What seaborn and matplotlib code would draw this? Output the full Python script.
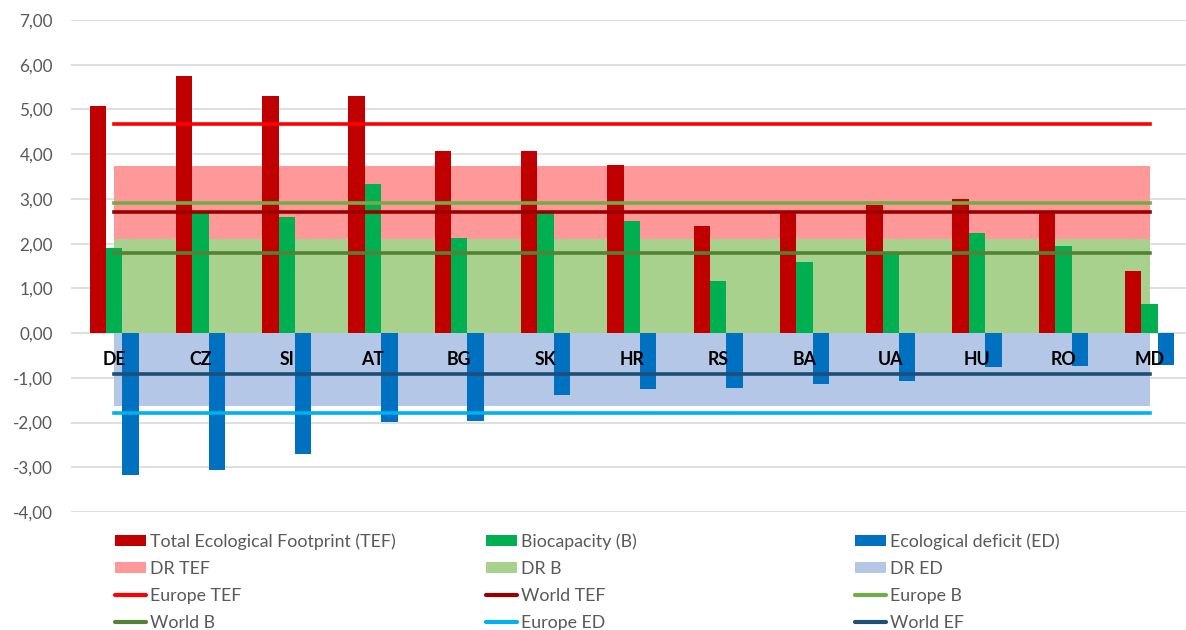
import numpy as np
import pandas as pd
import matplotlib
matplotlib.use("Agg")
import matplotlib.pyplot as plt
from matplotlib.patches import Patch
from matplotlib.lines import Line2D
from matplotlib.ticker import FuncFormatter, MultipleLocator
import seaborn as sns

# ---- data -------------------------------------------------------------
countries = ["DE", "CZ", "SI", "AT", "BG", "SK", "HR", "RS", "BA", "UA", "HU", "RO", "MD"]
tef = [5.08, 5.74, 5.31, 5.31, 4.08, 4.06, 3.75, 2.39, 2.72, 2.86, 2.99, 2.68, 1.38]
biocap = [1.91, 2.68, 2.60, 3.33, 2.12, 2.68, 2.50, 1.16, 1.59, 1.79, 2.23, 1.95, 0.66]
deficit = [-3.17, -3.06, -2.71, -1.98, -1.96, -1.38, -1.25, -1.23, -1.13, -1.07, -0.76, -0.73, -0.72]

# regional (DR) reference ranges
dr_tef = 3.73
dr_b = 2.10
dr_ed = -1.62

# Europe / World averages
europe_tef = 4.68
world_tef = 2.71
europe_b = 2.91
world_b = 1.78
europe_ed = -1.78
world_ef = -0.92

series_names = ["Total Ecological Footprint (TEF)", "Biocapacity (B)", "Ecological deficit (ED)"]

# ---- styling ------------------------------------------------------------
sns.set_theme(style="white")
plt.rcParams["font.family"] = ["Lato", "DejaVu Sans"]

c_tef, c_b, c_ed = "#C00000", "#00B050", "#0070C0"
c_dr_tef, c_dr_b, c_dr_ed = "#FF9999", "#A9D18E", "#B4C7E7"
c_eu_tef, c_w_tef = "#FF0000", "#990000"
c_eu_b, c_w_b = "#70AD47", "#548235"
c_eu_ed, c_w_ef = "#00B0F0", "#1F4E79"
text_grey = "#595959"

W, H = 1186, 630
fig = plt.figure(figsize=(W / 100, H / 100), dpi=100)
ax = fig.add_axes([71 / W, 1 - 512 / H, 1 - 71 / W, (512 - 20) / H])

df = pd.DataFrame({
    "country": countries * 3,
    "value": tef + biocap + deficit,
    "series": [series_names[0]] * len(countries)
    + [series_names[1]] * len(countries)
    + [series_names[2]] * len(countries),
})

x = np.arange(len(countries))

# shaded reference ranges
ax.fill_between(x, 0, dr_tef, color=c_dr_tef, lw=0, zorder=1)
ax.fill_between(x, 0, dr_b, color=c_dr_b, lw=0, zorder=1.1)
ax.fill_between(x, dr_ed, 0, color=c_dr_ed, lw=0, zorder=1.1)

# bars
sns.barplot(
    data=df, x="country", y="value", hue="series", order=countries,
    hue_order=series_names, palette=[c_tef, c_b, c_ed], saturation=1,
    width=0.57, gap=0, errorbar=None, linewidth=0, zorder=2,
    legend=False, ax=ax,
)

# average lines
lw = 2.6
for val, col in [(europe_tef, c_eu_tef), (world_tef, c_w_tef), (europe_b, c_eu_b),
                 (world_b, c_w_b), (europe_ed, c_eu_ed), (world_ef, c_w_ef)]:
    ax.hlines(val, x[0], x[-1], colors=col, lw=lw, zorder=3, capstyle="projecting")

# category labels inside the plot, just below zero
for i, name in enumerate(countries):
    ax.text(i, -0.58, name, ha="center", va="center", fontsize=12.8,
            fontweight="bold", color="black", zorder=4)

# axes
ax.set_ylim(-4, 7)
ax.set_xlim(-0.5, (W - 114) / 86.3)
ax.yaxis.set_major_locator(MultipleLocator(1))
ax.yaxis.set_major_formatter(FuncFormatter(lambda v, p: f"{v:.2f}".replace(".", ",")))
ax.tick_params(axis="y", length=0, pad=13, labelsize=12.3, labelcolor=text_grey)
ax.set_xticks([])
ax.set_xlabel("")
ax.set_ylabel("")
ax.yaxis.grid(True, color="#D9D9D9", lw=1.2, zorder=0)
ax.set_axisbelow(True)
for s in ax.spines.values():
    s.set_visible(False)

# legend, three columns
def patch(c):
    return Patch(facecolor=c, edgecolor="none")

def line(c):
    return Line2D([], [], color=c, lw=3)

columns = [
    ([patch(c_tef), patch(c_dr_tef), line(c_eu_tef), line(c_w_b)],
     [series_names[0], "DR TEF", "Europe TEF", "World B"], 115),
    ([patch(c_b), patch(c_dr_b), line(c_w_tef), line(c_eu_ed)],
     [series_names[1], "DR B", "World TEF", "Europe ED"], 486),
    ([patch(c_ed), patch(c_dr_ed), line(c_eu_b), line(c_w_ef)],
     [series_names[2], "DR ED", "Europe B", "World EF"], 855),
]
for handles, labels, xpx in columns:
    leg = fig.legend(handles, labels, loc="upper left",
                     bbox_to_anchor=(xpx / W, 1 - 533 / H), frameon=False,
                     fontsize=12.8, handlelength=1.75, handleheight=0.6,
                     handletextpad=0.2, labelspacing=0.63, borderpad=0,
                     borderaxespad=0)
    for t in leg.get_texts():
        t.set_color(text_grey)

fig.savefig("out.png", dpi=100, facecolor="white")
